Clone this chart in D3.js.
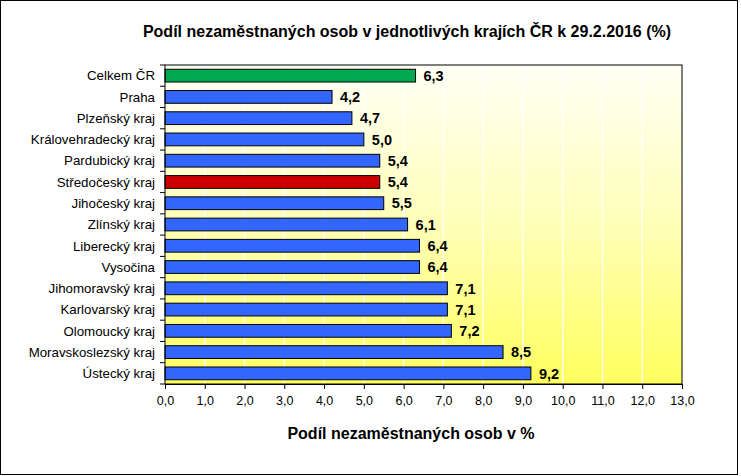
<!DOCTYPE html>
<html><head><meta charset="utf-8">
<script src="https://cdn.jsdelivr.net/npm/d3@7"></script>
<style>body{margin:0;background:#fff}svg{display:block}</style>
</head><body>
<script>
const categories = ["Celkem ČR","Praha","Plzeňský kraj","Královehradecký kraj","Pardubický kraj","Středočeský kraj","Jihočeský kraj","Zlínský kraj","Liberecký kraj","Vysočina","Jihomoravský kraj","Karlovarský kraj","Olomoucký kraj","Moravskoslezský kraj","Ústecký kraj"];
const values = [6.3,4.2,4.7,5.0,5.4,5.4,5.5,6.1,6.4,6.4,7.1,7.1,7.2,8.5,9.2];
const barColors = ["#00A84F","#3366FF","#3366FF","#3366FF","#3366FF","#CC0000","#3366FF","#3366FF","#3366FF","#3366FF","#3366FF","#3366FF","#3366FF","#3366FF","#3366FF"];
const xTicks = [0,1,2,3,4,5,6,7,8,9,10,11,12,13];
const title = "Podíl nezaměstnaných osob v jednotlivých krajích ČR k 29.2.2016 (%)";
const xTitle = "Podíl nezaměstnaných osob v %";

const W = 741, H = 476;
const svg = d3.select("body").append("svg").attr("width", W).attr("height", H);
const font = "'Liberation Sans', Arial, sans-serif";

svg.append("rect").attr("x",0.5).attr("y",0.5).attr("width",737).attr("height",474)
  .attr("fill","#fff").attr("stroke","#000").attr("stroke-width",1);

const L = 165, R = 682, T = 65, B = 384;
const x = d3.scaleLinear().domain([0,13]).range([L,R]);
const y = d3.scaleBand().domain(categories).range([T,B]).paddingInner(0.4).paddingOuter(0.2);

const defs = svg.append("defs");
const g = defs.append("linearGradient").attr("id","bg").attr("x1",0).attr("y1",0).attr("x2",0).attr("y2",1);
g.append("stop").attr("offset","0%").attr("stop-color","#FFFFF6");
g.append("stop").attr("offset","50%").attr("stop-color","#FFFFB8");
g.append("stop").attr("offset","100%").attr("stop-color","#FFFF5E");

svg.append("rect").attr("x",L).attr("y",T).attr("width",R-L).attr("height",B-T).attr("fill","url(#bg)");

// gridlines
svg.append("g").selectAll("line").data(xTicks.slice(1,-1)).join("line")
  .attr("x1",d=>x(d)).attr("x2",d=>x(d)).attr("y1",T).attr("y2",B)
  .attr("stroke","#fff").attr("stroke-width",1.5).attr("opacity",0.85);

// bars
svg.append("g").selectAll("rect").data(values).join("rect")
  .attr("x",x(0)).attr("y",(d,i)=>y(categories[i]))
  .attr("width",d=>x(d)-x(0)).attr("height",y.bandwidth())
  .attr("fill",(d,i)=>barColors[i]).attr("stroke","#000").attr("stroke-width",1);

// value labels
svg.append("g").selectAll("text").data(values).join("text")
  .attr("x",d=>x(d)+8).attr("y",(d,i)=>y(categories[i])+y.bandwidth()/2)
  .attr("dy","0.36em").attr("font-family",font).attr("font-weight","bold").attr("font-size",14.5)
  .text(d=>d.toFixed(1).replace(".",","));

// plot border
svg.append("rect").attr("x",L).attr("y",T).attr("width",R-L).attr("height",B-T)
  .attr("fill","none").attr("stroke","#000").attr("stroke-width",1);

// x axis
const xa = svg.append("g").attr("transform",`translate(0,${B})`)
  .call(d3.axisBottom(x).tickValues(xTicks).tickSize(5).tickSizeOuter(0).tickFormat(d=>d.toFixed(1).replace(".",",")));
xa.select(".domain").attr("stroke","#000");
xa.selectAll("text").attr("font-family",font).attr("font-size",12.5).attr("fill","#000").attr("dy","1.05em");

// y axis: ticks at band boundaries
const yg = svg.append("g");
const bounds = d3.range(categories.length+1).map(i => T + i*(B-T)/categories.length);
yg.selectAll("line").data(bounds).join("line")
  .attr("x1",L-5).attr("x2",L).attr("y1",d=>d).attr("y2",d=>d).attr("stroke","#000");
yg.selectAll("text").data(categories).join("text")
  .attr("x",L-10).attr("y",d=>y(d)+y.bandwidth()/2).attr("dy","0.36em")
  .attr("text-anchor","end").attr("font-family",font).attr("font-size",13.3).text(d=>d);

svg.append("text").attr("x",407).attr("y",37).attr("text-anchor","middle")
  .attr("font-family",font).attr("font-weight","bold").attr("font-size",16).text(title);
svg.append("text").attr("x",411).attr("y",439).attr("text-anchor","middle")
  .attr("font-family",font).attr("font-weight","bold").attr("font-size",16).text(xTitle);
</script>
</body></html>
